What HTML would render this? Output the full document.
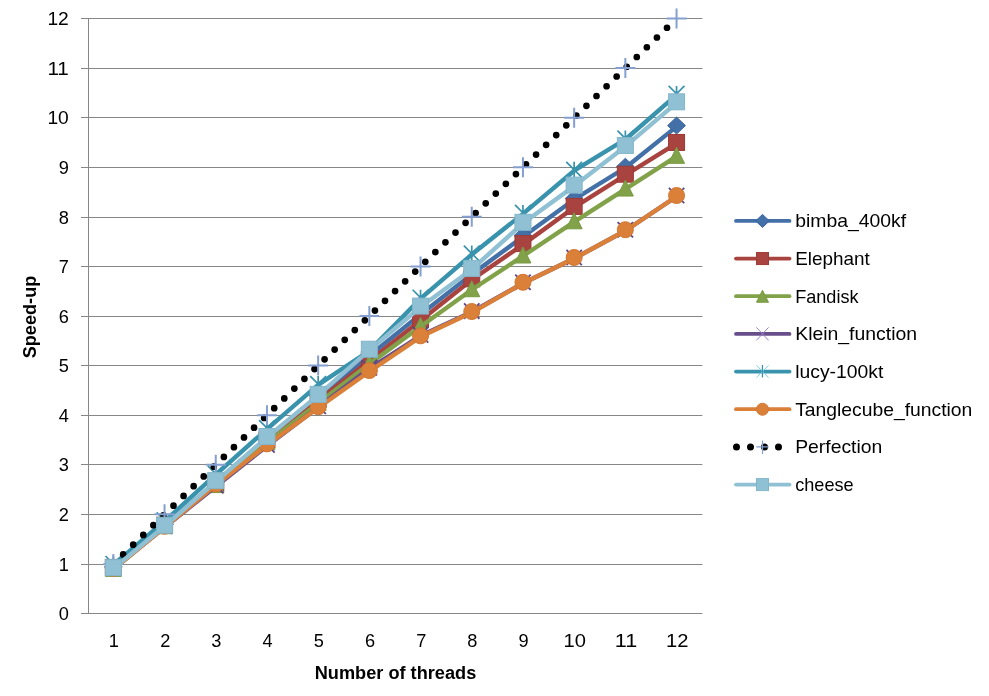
<!DOCTYPE html><html><head><meta charset="utf-8"><style>html,body{margin:0;padding:0;background:#fff;}svg{display:block;will-change:transform}text{font-family:"Liberation Sans",Arial,sans-serif;}</style></head><body>
<svg width="989" height="696" viewBox="0 0 989 696">
<rect width="989" height="696" fill="#fff"/>
<path d="M81 613.5H702.4 M81 564.5H702.4 M81 514.5H702.4 M81 464.5H702.4 M81 415.5H702.4 M81 365.5H702.4 M81 316.5H702.4 M81 266.5H702.4 M81 217.5H702.4 M81 167.5H702.4 M81 117.5H702.4 M81 68.5H702.4 M81 18.5H702.4" stroke="#868686" stroke-width="1" fill="none"/>
<path d="M88.5 18V614" stroke="#868686" stroke-width="1"/>
<text x="68.8" y="620.0" text-anchor="end" font-size="18.2" fill="#000">0</text>
<text x="68.8" y="571.0" text-anchor="end" font-size="18.2" fill="#000">1</text>
<text x="68.8" y="521.0" text-anchor="end" font-size="18.2" fill="#000">2</text>
<text x="68.8" y="471.0" text-anchor="end" font-size="18.2" fill="#000">3</text>
<text x="68.8" y="422.0" text-anchor="end" font-size="18.2" fill="#000">4</text>
<text x="68.8" y="372.0" text-anchor="end" font-size="18.2" fill="#000">5</text>
<text x="68.8" y="323.0" text-anchor="end" font-size="18.2" fill="#000">6</text>
<text x="68.8" y="273.0" text-anchor="end" font-size="18.2" fill="#000">7</text>
<text x="68.8" y="224.0" text-anchor="end" font-size="18.2" fill="#000">8</text>
<text x="68.8" y="174.0" text-anchor="end" font-size="18.2" fill="#000">9</text>
<text x="68.8" y="124.0" text-anchor="end" font-size="18.2" fill="#000" textLength="21.4" lengthAdjust="spacingAndGlyphs">10</text>
<text x="68.8" y="75.0" text-anchor="end" font-size="18.2" fill="#000" textLength="21.4" lengthAdjust="spacingAndGlyphs">11</text>
<text x="68.8" y="25.0" text-anchor="end" font-size="18.2" fill="#000" textLength="21.4" lengthAdjust="spacingAndGlyphs">12</text>
<text x="113.9" y="647" text-anchor="middle" font-size="18.2" fill="#000">1</text>
<text x="165.2" y="647" text-anchor="middle" font-size="18.2" fill="#000">2</text>
<text x="216.3" y="647" text-anchor="middle" font-size="18.2" fill="#000">3</text>
<text x="267.6" y="647" text-anchor="middle" font-size="18.2" fill="#000">4</text>
<text x="318.8" y="647" text-anchor="middle" font-size="18.2" fill="#000">5</text>
<text x="370.0" y="647" text-anchor="middle" font-size="18.2" fill="#000">6</text>
<text x="421.2" y="647" text-anchor="middle" font-size="18.2" fill="#000">7</text>
<text x="472.4" y="647" text-anchor="middle" font-size="18.2" fill="#000">8</text>
<text x="523.6" y="647" text-anchor="middle" font-size="18.2" fill="#000">9</text>
<text x="574.8" y="647" text-anchor="middle" font-size="18.2" fill="#000" textLength="22.4" lengthAdjust="spacingAndGlyphs">10</text>
<text x="626.0" y="647" text-anchor="middle" font-size="18.2" fill="#000" textLength="22.4" lengthAdjust="spacingAndGlyphs">11</text>
<text x="677.2" y="647" text-anchor="middle" font-size="18.2" fill="#000" textLength="22.4" lengthAdjust="spacingAndGlyphs">12</text>
<text x="395.5" y="678.7" text-anchor="middle" font-size="18.0" font-weight="bold" textLength="161.5" lengthAdjust="spacingAndGlyphs">Number of threads</text>
<text transform="translate(35.6,317) rotate(-90)" x="0" y="0" text-anchor="middle" font-size="18.0" font-weight="bold" textLength="82.6" lengthAdjust="spacingAndGlyphs">Speed-up</text>
<polyline points="113.35,567.89 164.55,525.25 215.75,482.61 266.95,437.98 318.15,396.33 369.35,355.68 420.55,314.52 471.75,274.36 522.95,236.67 574.15,199.49 625.35,167.75 676.55,126.60" fill="none" stroke="#4470A8" stroke-width="4.4" stroke-linejoin="round" stroke-linecap="round"/>
<path d="M113.35 558.39L122.25 566.89L113.35 575.39L104.45 566.89Z" fill="#4470A8" stroke="#3B64A0" stroke-width="1"/>
<path d="M164.55 515.75L173.45 524.25L164.55 532.75L155.65 524.25Z" fill="#4470A8" stroke="#3B64A0" stroke-width="1"/>
<path d="M215.75 473.11L224.65 481.61L215.75 490.11L206.85 481.61Z" fill="#4470A8" stroke="#3B64A0" stroke-width="1"/>
<path d="M266.95 428.48L275.85 436.98L266.95 445.48L258.05 436.98Z" fill="#4470A8" stroke="#3B64A0" stroke-width="1"/>
<path d="M318.15 386.83L327.05 395.33L318.15 403.83L309.25 395.33Z" fill="#4470A8" stroke="#3B64A0" stroke-width="1"/>
<path d="M369.35 346.18L378.25 354.68L369.35 363.18L360.45 354.68Z" fill="#4470A8" stroke="#3B64A0" stroke-width="1"/>
<path d="M420.55 305.02L429.45 313.52L420.55 322.02L411.65 313.52Z" fill="#4470A8" stroke="#3B64A0" stroke-width="1"/>
<path d="M471.75 264.86L480.65 273.36L471.75 281.86L462.85 273.36Z" fill="#4470A8" stroke="#3B64A0" stroke-width="1"/>
<path d="M522.95 227.17L531.85 235.67L522.95 244.17L514.05 235.67Z" fill="#4470A8" stroke="#3B64A0" stroke-width="1"/>
<path d="M574.15 189.99L583.05 198.49L574.15 206.99L565.25 198.49Z" fill="#4470A8" stroke="#3B64A0" stroke-width="1"/>
<path d="M625.35 158.25L634.25 166.75L625.35 175.25L616.45 166.75Z" fill="#4470A8" stroke="#3B64A0" stroke-width="1"/>
<path d="M676.55 117.10L685.45 125.60L676.55 134.10L667.65 125.60Z" fill="#4470A8" stroke="#3B64A0" stroke-width="1"/>
<polyline points="113.35,568.39 164.55,526.24 215.75,484.59 266.95,440.96 318.15,400.30 369.35,360.63 420.55,320.47 471.75,279.81 522.95,244.61 574.15,207.42 625.35,175.19 676.55,143.46" fill="none" stroke="#A9433F" stroke-width="4.4" stroke-linejoin="round" stroke-linecap="round"/>
<rect x="105.35" y="559.39" width="16.00" height="16.00" fill="#A9433F" stroke="#9E3936" stroke-width="1"/>
<rect x="156.55" y="517.24" width="16.00" height="16.00" fill="#A9433F" stroke="#9E3936" stroke-width="1"/>
<rect x="207.75" y="475.59" width="16.00" height="16.00" fill="#A9433F" stroke="#9E3936" stroke-width="1"/>
<rect x="258.95" y="431.96" width="16.00" height="16.00" fill="#A9433F" stroke="#9E3936" stroke-width="1"/>
<rect x="310.15" y="391.30" width="16.00" height="16.00" fill="#A9433F" stroke="#9E3936" stroke-width="1"/>
<rect x="361.35" y="351.63" width="16.00" height="16.00" fill="#A9433F" stroke="#9E3936" stroke-width="1"/>
<rect x="412.55" y="311.47" width="16.00" height="16.00" fill="#A9433F" stroke="#9E3936" stroke-width="1"/>
<rect x="463.75" y="270.81" width="16.00" height="16.00" fill="#A9433F" stroke="#9E3936" stroke-width="1"/>
<rect x="514.95" y="235.61" width="16.00" height="16.00" fill="#A9433F" stroke="#9E3936" stroke-width="1"/>
<rect x="566.15" y="198.42" width="16.00" height="16.00" fill="#A9433F" stroke="#9E3936" stroke-width="1"/>
<rect x="617.35" y="166.19" width="16.00" height="16.00" fill="#A9433F" stroke="#9E3936" stroke-width="1"/>
<rect x="668.55" y="134.46" width="16.00" height="16.00" fill="#A9433F" stroke="#9E3936" stroke-width="1"/>
<polyline points="113.35,569.38 164.55,526.74 215.75,485.58 266.95,442.94 318.15,403.27 369.35,364.10 420.55,326.42 471.75,289.73 522.95,256.01 574.15,221.80 625.35,189.07 676.55,156.35" fill="none" stroke="#82A24A" stroke-width="4.4" stroke-linejoin="round" stroke-linecap="round"/>
<path d="M113.35 560.38L121.35 576.38L105.35 576.38Z" fill="#82A24A" stroke="#789A42" stroke-width="1"/>
<path d="M164.55 517.74L172.55 533.74L156.55 533.74Z" fill="#82A24A" stroke="#789A42" stroke-width="1"/>
<path d="M215.75 476.58L223.75 492.58L207.75 492.58Z" fill="#82A24A" stroke="#789A42" stroke-width="1"/>
<path d="M266.95 433.94L274.95 449.94L258.95 449.94Z" fill="#82A24A" stroke="#789A42" stroke-width="1"/>
<path d="M318.15 394.27L326.15 410.27L310.15 410.27Z" fill="#82A24A" stroke="#789A42" stroke-width="1"/>
<path d="M369.35 355.10L377.35 371.10L361.35 371.10Z" fill="#82A24A" stroke="#789A42" stroke-width="1"/>
<path d="M420.55 317.42L428.55 333.42L412.55 333.42Z" fill="#82A24A" stroke="#789A42" stroke-width="1"/>
<path d="M471.75 280.73L479.75 296.73L463.75 296.73Z" fill="#82A24A" stroke="#789A42" stroke-width="1"/>
<path d="M522.95 247.01L530.95 263.01L514.95 263.01Z" fill="#82A24A" stroke="#789A42" stroke-width="1"/>
<path d="M574.15 212.80L582.15 228.80L566.15 228.80Z" fill="#82A24A" stroke="#789A42" stroke-width="1"/>
<path d="M625.35 180.07L633.35 196.07L617.35 196.07Z" fill="#82A24A" stroke="#789A42" stroke-width="1"/>
<path d="M676.55 147.35L684.55 163.35L668.55 163.35Z" fill="#82A24A" stroke="#789A42" stroke-width="1"/>
<polyline points="113.35,568.88 164.55,527.23 215.75,486.57 266.95,445.92 318.15,407.24 369.35,368.57 420.55,335.84 471.75,312.04 522.95,283.28 574.15,258.49 625.35,230.72 676.55,196.51" fill="none" stroke="#684F8C" stroke-width="4.4" stroke-linejoin="round" stroke-linecap="round"/>
<path d="M105.65 560.18L121.05 575.58M121.05 560.18L105.65 575.58" stroke="#5F4689" stroke-width="1.8" fill="none"/>
<path d="M156.85 518.53L172.25 533.93M172.25 518.53L156.85 533.93" stroke="#5F4689" stroke-width="1.8" fill="none"/>
<path d="M208.05 477.88L223.45 493.27M223.45 477.88L208.05 493.27" stroke="#5F4689" stroke-width="1.8" fill="none"/>
<path d="M259.25 437.22L274.65 452.62M274.65 437.22L259.25 452.62" stroke="#5F4689" stroke-width="1.8" fill="none"/>
<path d="M310.45 398.54L325.85 413.94M325.85 398.54L310.45 413.94" stroke="#5F4689" stroke-width="1.8" fill="none"/>
<path d="M361.65 359.87L377.05 375.27M377.05 359.87L361.65 375.27" stroke="#5F4689" stroke-width="1.8" fill="none"/>
<path d="M412.85 327.14L428.25 342.54M428.25 327.14L412.85 342.54" stroke="#5F4689" stroke-width="1.8" fill="none"/>
<path d="M464.05 303.34L479.45 318.74M479.45 303.34L464.05 318.74" stroke="#5F4689" stroke-width="1.8" fill="none"/>
<path d="M515.25 274.58L530.65 289.98M530.65 274.58L515.25 289.98" stroke="#5F4689" stroke-width="1.8" fill="none"/>
<path d="M566.45 249.79L581.85 265.19M581.85 249.79L566.45 265.19" stroke="#5F4689" stroke-width="1.8" fill="none"/>
<path d="M617.65 222.02L633.05 237.42M633.05 222.02L617.65 237.42" stroke="#5F4689" stroke-width="1.8" fill="none"/>
<path d="M668.85 187.81L684.25 203.21M684.25 187.81L668.85 203.21" stroke="#5F4689" stroke-width="1.8" fill="none"/>
<polyline points="113.35,564.92 164.55,521.28 215.75,474.68 266.95,429.06 318.15,384.93 369.35,350.72 420.55,298.65 471.75,254.52 522.95,213.87 574.15,170.73 625.35,139.49 676.55,94.87" fill="none" stroke="#3A93AD" stroke-width="4.4" stroke-linejoin="round" stroke-linecap="round"/>
<path d="M105.45 556.02L121.25 571.82M121.25 556.02L105.45 571.82M113.35 556.02L113.35 571.82" stroke="#3A93AD" stroke-width="1.7" fill="none"/>
<path d="M156.65 512.38L172.45 528.18M172.45 512.38L156.65 528.18M164.55 512.38L164.55 528.18" stroke="#3A93AD" stroke-width="1.7" fill="none"/>
<path d="M207.85 465.78L223.65 481.57M223.65 465.78L207.85 481.57M215.75 465.78L215.75 481.57" stroke="#3A93AD" stroke-width="1.7" fill="none"/>
<path d="M259.05 420.16L274.85 435.96M274.85 420.16L259.05 435.96M266.95 420.16L266.95 435.96" stroke="#3A93AD" stroke-width="1.7" fill="none"/>
<path d="M310.25 376.03L326.05 391.83M326.05 376.03L310.25 391.83M318.15 376.03L318.15 391.83" stroke="#3A93AD" stroke-width="1.7" fill="none"/>
<path d="M361.45 341.82L377.25 357.62M377.25 341.82L361.45 357.62M369.35 341.82L369.35 357.62" stroke="#3A93AD" stroke-width="1.7" fill="none"/>
<path d="M412.65 289.75L428.45 305.55M428.45 289.75L412.65 305.55M420.55 289.75L420.55 305.55" stroke="#3A93AD" stroke-width="1.7" fill="none"/>
<path d="M463.85 245.62L479.65 261.42M479.65 245.62L463.85 261.42M471.75 245.62L471.75 261.42" stroke="#3A93AD" stroke-width="1.7" fill="none"/>
<path d="M515.05 204.97L530.85 220.77M530.85 204.97L515.05 220.77M522.95 204.97L522.95 220.77" stroke="#3A93AD" stroke-width="1.7" fill="none"/>
<path d="M566.25 161.83L582.05 177.63M582.05 161.83L566.25 177.63M574.15 161.83L574.15 177.63" stroke="#3A93AD" stroke-width="1.7" fill="none"/>
<path d="M617.45 130.59L633.25 146.39M633.25 130.59L617.45 146.39M625.35 130.59L625.35 146.39" stroke="#3A93AD" stroke-width="1.7" fill="none"/>
<path d="M668.65 85.97L684.45 101.77M684.45 85.97L668.65 101.77M676.55 85.97L676.55 101.77" stroke="#3A93AD" stroke-width="1.7" fill="none"/>
<polyline points="113.35,569.38 164.55,527.23 215.75,485.09 266.95,444.92 318.15,407.74 369.35,371.54 420.55,336.83 471.75,312.54 522.95,283.28 574.15,258.49 625.35,230.72 676.55,196.51" fill="none" stroke="#DA8039" stroke-width="4.4" stroke-linejoin="round" stroke-linecap="round"/>
<circle cx="113.35" cy="568.38" r="8.00" fill="#DA8039" stroke="#D27630" stroke-width="1"/>
<circle cx="164.55" cy="526.23" r="8.00" fill="#DA8039" stroke="#D27630" stroke-width="1"/>
<circle cx="215.75" cy="484.09" r="8.00" fill="#DA8039" stroke="#D27630" stroke-width="1"/>
<circle cx="266.95" cy="443.92" r="8.00" fill="#DA8039" stroke="#D27630" stroke-width="1"/>
<circle cx="318.15" cy="406.74" r="8.00" fill="#DA8039" stroke="#D27630" stroke-width="1"/>
<circle cx="369.35" cy="370.54" r="8.00" fill="#DA8039" stroke="#D27630" stroke-width="1"/>
<circle cx="420.55" cy="335.83" r="8.00" fill="#DA8039" stroke="#D27630" stroke-width="1"/>
<circle cx="471.75" cy="311.54" r="8.00" fill="#DA8039" stroke="#D27630" stroke-width="1"/>
<circle cx="522.95" cy="282.28" r="8.00" fill="#DA8039" stroke="#D27630" stroke-width="1"/>
<circle cx="574.15" cy="257.49" r="8.00" fill="#DA8039" stroke="#D27630" stroke-width="1"/>
<circle cx="625.35" cy="229.72" r="8.00" fill="#DA8039" stroke="#D27630" stroke-width="1"/>
<circle cx="676.55" cy="195.51" r="8.00" fill="#DA8039" stroke="#D27630" stroke-width="1"/>
<polyline points="113.35,563.92 164.55,514.33 215.75,464.75 266.95,415.17 318.15,365.58 369.35,316.00 420.55,266.42 471.75,216.83 522.95,167.25 574.15,117.67 625.35,68.08 676.55,18.50" fill="none" stroke="#000" stroke-width="6.7" stroke-linecap="round" stroke-dasharray="0 14.02" stroke-dashoffset="0.38"/>
<path d="M103.35 563.92L123.35 563.92M113.35 553.92L113.35 573.92" stroke="#849FD0" stroke-width="2" fill="none"/>
<path d="M154.55 514.33L174.55 514.33M164.55 504.33L164.55 524.33" stroke="#849FD0" stroke-width="2" fill="none"/>
<path d="M205.75 464.75L225.75 464.75M215.75 454.75L215.75 474.75" stroke="#849FD0" stroke-width="2" fill="none"/>
<path d="M256.95 415.17L276.95 415.17M266.95 405.17L266.95 425.17" stroke="#849FD0" stroke-width="2" fill="none"/>
<path d="M308.15 365.58L328.15 365.58M318.15 355.58L318.15 375.58" stroke="#849FD0" stroke-width="2" fill="none"/>
<path d="M359.35 316.00L379.35 316.00M369.35 306.00L369.35 326.00" stroke="#849FD0" stroke-width="2" fill="none"/>
<path d="M410.55 266.42L430.55 266.42M420.55 256.42L420.55 276.42" stroke="#849FD0" stroke-width="2" fill="none"/>
<path d="M461.75 216.83L481.75 216.83M471.75 206.83L471.75 226.83" stroke="#849FD0" stroke-width="2" fill="none"/>
<path d="M512.95 167.25L532.95 167.25M522.95 157.25L522.95 177.25" stroke="#849FD0" stroke-width="2" fill="none"/>
<path d="M564.15 117.67L584.15 117.67M574.15 107.67L574.15 127.67" stroke="#849FD0" stroke-width="2" fill="none"/>
<path d="M615.35 68.08L635.35 68.08M625.35 58.08L625.35 78.08" stroke="#849FD0" stroke-width="2" fill="none"/>
<path d="M666.55 18.50L686.55 18.50M676.55 8.50L676.55 28.50" stroke="#849FD0" stroke-width="2" fill="none"/>
<polyline points="113.35,568.64 164.55,526.24 215.75,481.62 266.95,437.49 318.15,395.34 369.35,350.22 420.55,307.08 471.75,269.40 522.95,223.29 574.15,186.10 625.35,146.43 676.55,102.80" fill="none" stroke="#90C0D3" stroke-width="4.4" stroke-linejoin="round" stroke-linecap="round"/>
<rect x="105.35" y="559.64" width="16.00" height="16.00" fill="#90C0D3" stroke="#84B6CA" stroke-width="1"/>
<rect x="156.55" y="517.24" width="16.00" height="16.00" fill="#90C0D3" stroke="#84B6CA" stroke-width="1"/>
<rect x="207.75" y="472.62" width="16.00" height="16.00" fill="#90C0D3" stroke="#84B6CA" stroke-width="1"/>
<rect x="258.95" y="428.49" width="16.00" height="16.00" fill="#90C0D3" stroke="#84B6CA" stroke-width="1"/>
<rect x="310.15" y="386.34" width="16.00" height="16.00" fill="#90C0D3" stroke="#84B6CA" stroke-width="1"/>
<rect x="361.35" y="341.22" width="16.00" height="16.00" fill="#90C0D3" stroke="#84B6CA" stroke-width="1"/>
<rect x="412.55" y="298.08" width="16.00" height="16.00" fill="#90C0D3" stroke="#84B6CA" stroke-width="1"/>
<rect x="463.75" y="260.40" width="16.00" height="16.00" fill="#90C0D3" stroke="#84B6CA" stroke-width="1"/>
<rect x="514.95" y="214.29" width="16.00" height="16.00" fill="#90C0D3" stroke="#84B6CA" stroke-width="1"/>
<rect x="566.15" y="177.10" width="16.00" height="16.00" fill="#90C0D3" stroke="#84B6CA" stroke-width="1"/>
<rect x="617.35" y="137.43" width="16.00" height="16.00" fill="#90C0D3" stroke="#84B6CA" stroke-width="1"/>
<rect x="668.55" y="93.80" width="16.00" height="16.00" fill="#90C0D3" stroke="#84B6CA" stroke-width="1"/>
<path d="M736 220.9H789.5" stroke="#4470A8" stroke-width="3.8" stroke-linecap="round"/>
<path d="M762.50 214.40L769.40 220.90L762.50 227.40L755.60 220.90Z" fill="#4470A8" stroke="#3B64A0" stroke-width="1"/>
<text x="795.2" y="227.4" font-size="18.5" fill="#000" textLength="111.0" lengthAdjust="spacingAndGlyphs">bimba_400kf</text>
<path d="M736 258.6H789.5" stroke="#A9433F" stroke-width="3.8" stroke-linecap="round"/>
<rect x="756.50" y="252.57" width="12.00" height="12.00" fill="#A9433F" stroke="#9E3936" stroke-width="1"/>
<text x="795.2" y="265.1" font-size="18.5" fill="#000" textLength="74.6" lengthAdjust="spacingAndGlyphs">Elephant</text>
<path d="M736 296.2H789.5" stroke="#82A24A" stroke-width="3.8" stroke-linecap="round"/>
<path d="M762.50 290.24L768.50 302.24L756.50 302.24Z" fill="#82A24A" stroke="#789A42" stroke-width="1"/>
<text x="795.2" y="302.7" font-size="18.5" fill="#000" textLength="63.3" lengthAdjust="spacingAndGlyphs">Fandisk</text>
<path d="M736 333.9H789.5" stroke="#684F8C" stroke-width="3.8" stroke-linecap="round"/>
<path d="M756.4 327.4L768.6 340.4M768.6 327.4L756.4 340.4" stroke="#9A80C6" stroke-width="1"/>
<text x="795.2" y="340.4" font-size="18.5" fill="#000" textLength="121.9" lengthAdjust="spacingAndGlyphs">Klein_function</text>
<path d="M736 371.6H789.5" stroke="#3A93AD" stroke-width="3.8" stroke-linecap="round"/>
<path d="M756.5 365.3L768.5 377.6M768.5 365.3L756.5 377.6" stroke="#7FD0EA" stroke-width="1"/><path d="M762.4 365.1V377.6" stroke="#3A93AD" stroke-width="1.2"/>
<text x="795.2" y="378.1" font-size="18.5" fill="#000" textLength="88.1" lengthAdjust="spacingAndGlyphs">lucy-100kt</text>
<path d="M736 409.2H789.5" stroke="#DA8039" stroke-width="3.8" stroke-linecap="round"/>
<circle cx="762.50" cy="409.25" r="6.00" fill="#DA8039" stroke="#D27630" stroke-width="1"/>
<text x="795.2" y="415.8" font-size="18.5" fill="#000" textLength="177.1" lengthAdjust="spacingAndGlyphs">Tanglecube_function</text>
<path d="M736.5 446.9H790" stroke="#000" stroke-width="7" stroke-linecap="round" stroke-dasharray="0 14"/>
<path d="M756.3 446.9H768.7M762.5 440.4V453.9" stroke="#849FD0" stroke-width="1.2"/>
<text x="795.2" y="453.4" font-size="18.5" fill="#000" textLength="87.1" lengthAdjust="spacingAndGlyphs">Perfection</text>
<path d="M736 484.6H789.5" stroke="#90C0D3" stroke-width="3.8" stroke-linecap="round"/>
<rect x="756.50" y="478.59" width="12.00" height="12.00" fill="#90C0D3" stroke="#84B6CA" stroke-width="1"/>
<text x="795.2" y="491.1" font-size="18.5" fill="#000" textLength="58.4" lengthAdjust="spacingAndGlyphs">cheese</text>
</svg></body></html>
